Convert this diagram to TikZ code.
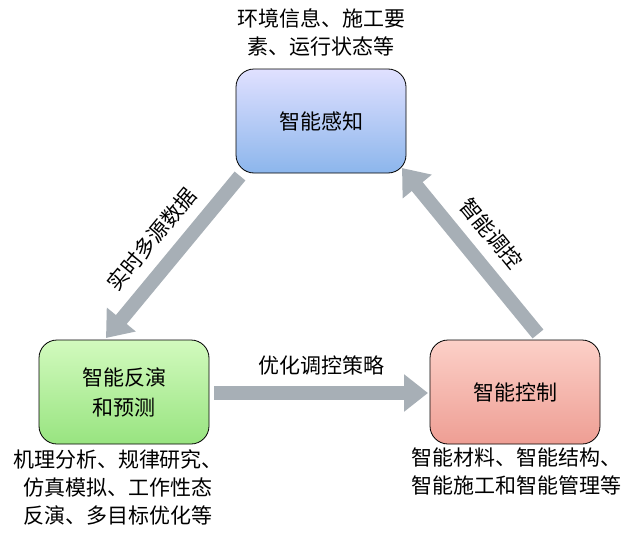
\documentclass[tikz,border=0pt]{standalone}
\usepackage{fontspec}
\setmainfont{Noto Sans CJK SC}
\usetikzlibrary{arrows.meta,positioning}
\tikzset{
    % boxes
    kuang/.style={
           rectangle,
           rounded corners=18pt,
           draw=black, thick,
           minimum width=170pt,
           minimum height=104pt,
           align=center,
           font=\fontsize{21pt}{30pt}\selectfont},
    % gray arrows
    jian/.style={
           -{Triangle[length=24pt,width=36pt]},
           line width=14pt,
           draw=arrowgray},
    zhu/.style={
           align=center,
           inner sep=1pt,
           font=\fontsize{21pt}{28pt}\selectfont}
}
\definecolor{arrowgray}{HTML}{A7AFB6}
\begin{document}
\begin{tikzpicture}[x=1pt,y=-1pt]
 \useasboundingbox (0,0) rectangle (640,546);
 %boxes
 \node[kuang, top color=blue!12!white, bottom color={rgb,255:red,140;green,182;blue,236}]
   (ganzhi) at (321,121) {智能感知};
 \node[kuang, top color={rgb,255:red,210;green,250;blue,190}, bottom color={rgb,255:red,152;green,228;blue,128}]
   (fanyan) at (124,392) {智能反演\\和预测};
 \node[kuang, top color={rgb,255:red,252;green,208;blue,200}, bottom color={rgb,255:red,238;green,158;blue,148}]
   (kongzhi) at (515,392) {智能控制};
 % annotations
 \node[zhu] (zhuA) at (321,32) {环境信息、施工要\\素、运行状态等};
 \node[zhu] (zhuB) at (118,487) {机理分析、规律研究、\\仿真模拟、工作性态\\反演、多目标优化等};
 \node[zhu] (zhuC) at (516,471) {智能材料、智能结构、\\智能施工和智能管理等};
 % arrows
 \coordinate (a1) at (240,176);
 \coordinate (a2) at (106,338);
 \coordinate (b1) at (214,393);
 \coordinate (b2) at (428,393);
 \coordinate (c1) at (538,334);
 \coordinate (c2) at (402,168);
 \draw[jian] (a1) -- node[zhu, sloped, above=10pt] {实时多源数据} (a2);
 \draw[jian] (b1) -- node[zhu, above=10pt] {优化调控策略} (b2);
 \draw[jian] (c1) -- node[zhu, sloped, above=10pt] {智能调控} (c2);
\end{tikzpicture}
\end{document}
